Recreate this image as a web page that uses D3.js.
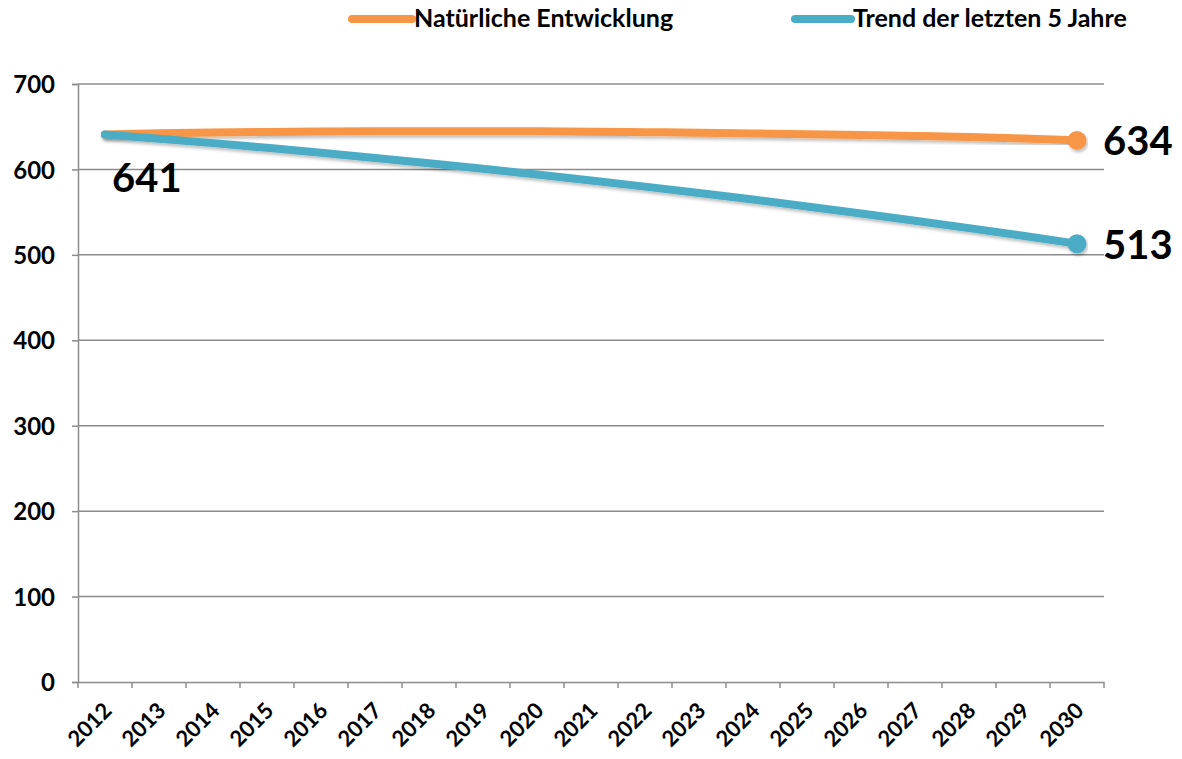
<!DOCTYPE html>
<html><head><meta charset="utf-8">
<script src="https://cdn.jsdelivr.net/npm/d3@7"></script>
<style>
html,body{margin:0;padding:0;background:#fff;}
svg{display:block;font-family:Lato, "Open Sans", sans-serif;font-weight:bold;}
</style></head>
<body>
<svg id="c" width="1182" height="759"></svg>
<script>
const years = ["2012","2013","2014","2015","2016","2017","2018","2019","2020","2021","2022","2023","2024","2025","2026","2027","2028","2029","2030"];
const natuerlich = [641,642.3,643.2,643.8,644.3,644.6,644.8,644.8,644.6,644.2,643.6,643,642.2,641.3,640.3,639.2,637.9,636.1,634];
const trend = [641,636,630.8,625.3,619.5,613.5,607.3,600.8,594.1,587.1,579.9,572.4,564.7,556.7,548.5,540,531.3,522.3,513];
const yTicks = [0,100,200,300,400,500,600,700];
const seriesNames = ["Natürliche Entwicklung","Trend der letzten 5 Jahre"];
const colors = ["#F79646","#4BACC6"];

const svg = d3.select("#c");
const L = 78, R = 1104, T = 84, B = 682;
const x = d3.scaleBand().domain(years).range([L, R]);
const y = d3.scaleLinear().domain([0,700]).range([B, T]);

const defs = svg.append("defs");
const f = defs.append("filter").attr("id","sh").attr("x","-5%").attr("y","-50%").attr("width","110%").attr("height","200%");
f.append("feDropShadow").attr("dx",1.5).attr("dy",2.5).attr("stdDeviation",1.8).attr("flood-color","#000").attr("flood-opacity",0.25);

// gridlines
svg.append("g").selectAll("line").data(yTicks.filter(d=>d>0)).join("line")
  .attr("x1", L).attr("x2", R).attr("y1", d=>y(d)).attr("y2", d=>y(d))
  .attr("stroke","#8c8c8c").attr("stroke-width",1.5);

// y axis
const yAxis = svg.append("g").attr("transform",`translate(${L},0)`)
  .call(d3.axisLeft(y).tickValues(yTicks).tickSize(6).tickPadding(17));
yAxis.attr("font-size",null).attr("font-family",null);
yAxis.select(".domain").attr("stroke","#8c8c8c").attr("stroke-width",1.5);
yAxis.selectAll(".tick line").attr("stroke","#8c8c8c").attr("stroke-width",1.5);
yAxis.selectAll("text").style("font-size","24px").style("font-weight","bold").attr("fill","#000")
  .attr("dy","0.36em");

// x axis
const xAxis = svg.append("g").attr("transform",`translate(0,${B})`)
  .call(d3.axisBottom(x).tickSize(0).tickPadding(0));
xAxis.attr("font-size",null).attr("font-family",null);
xAxis.select(".domain").attr("stroke","#8c8c8c").attr("stroke-width",1.5);
xAxis.selectAll(".tick line").remove();
xAxis.selectAll(".tick text").style("font-size","22px").style("font-weight","bold").attr("fill","#000")
  .attr("text-anchor","end").attr("y",0).attr("dy",0)
  .attr("transform","translate(8,30) rotate(-45)");
// boundary ticks
const bounds = years.map(d=>x(d)).concat([R]);
svg.append("g").selectAll("line").data(bounds).join("line")
  .attr("x1",d=>d).attr("x2",d=>d).attr("y1",B).attr("y2",B+6)
  .attr("stroke","#8c8c8c").attr("stroke-width",1.5);

const cx = d => x(d) + x.bandwidth()/2;
const line = d3.line().x((d,i)=>cx(years[i])).y(d=>y(d)).curve(d3.curveMonotoneX);

[natuerlich, trend].forEach((s,k)=>{
  svg.append("path").datum(s).attr("d",line).attr("fill","none")
    .attr("stroke",colors[k]).attr("stroke-width",8).attr("stroke-linecap","round")
    .attr("stroke-linejoin","round").attr("filter","url(#sh)");
});
[natuerlich, trend].forEach((s,k)=>{
  svg.append("circle").attr("cx",cx(years[years.length-1])).attr("cy",y(s[s.length-1]))
    .attr("r",9.5).attr("fill",colors[k]).attr("filter","url(#sh)");
});

// value labels
svg.append("text").attr("x",cx(years[0])+7).attr("y",y(natuerlich[0])+58)
  .style("font-size","40px").text(d3.format("d")(natuerlich[0]));
svg.append("text").attr("x",cx(years[years.length-1])+26).attr("y",y(natuerlich[natuerlich.length-1])+15)
  .style("font-size","40px").text(d3.format("d")(natuerlich[natuerlich.length-1]));
svg.append("text").attr("x",cx(years[years.length-1])+26).attr("y",y(trend[trend.length-1])+15)
  .style("font-size","40px").text(d3.format("d")(trend[trend.length-1]));

// legend
const leg = [{x1:352,x2:412,tx:414},{x1:795,x2:851,tx:853}];
leg.forEach((l,k)=>{
  svg.append("line").attr("x1",l.x1).attr("x2",l.x2).attr("y1",19).attr("y2",19)
    .attr("stroke",colors[k]).attr("stroke-width",8).attr("stroke-linecap","round");
  svg.append("text").attr("x",l.tx).attr("y",27).style("font-size","25px").text(seriesNames[k]);
});
</script>
</body></html>
